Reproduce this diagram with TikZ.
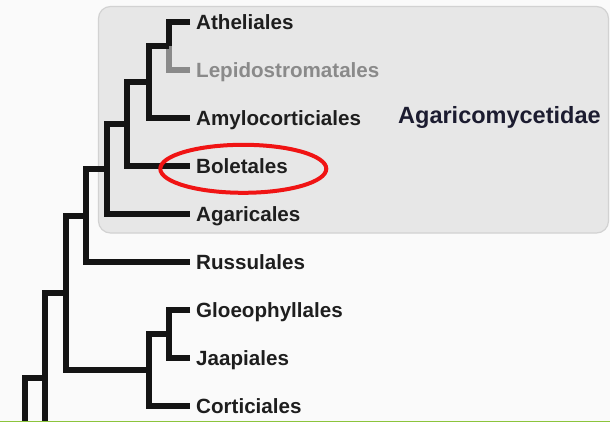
\documentclass[tikz,border=0pt]{standalone}
\usepackage{fontspec}
\setmainfont{Liberation Sans}
\usepackage{tikz}
\usetikzlibrary{shapes.geometric}

\definecolor{paper}{HTML}{FAFAFA}
\definecolor{boxfill}{HTML}{E7E7E7}
\definecolor{boxline}{HTML}{D2D2D2}
\definecolor{labelink}{HTML}{1E1E1E}
\definecolor{branchink}{HTML}{141414}
\definecolor{fadedink}{HTML}{8A8A8A}
\definecolor{ringred}{HTML}{F01414}
\definecolor{cladeink}{HTML}{1C1C30}
\definecolor{rimgreen}{HTML}{8CC43C}

\begin{document}
\begin{tikzpicture}[x=1pt, y=-1pt,
    leaf/.style={anchor=west, inner xsep=6pt, inner ysep=0pt, text height=15pt, text depth=0pt,
                 font=\fontsize{20.6}{24}\selectfont\bfseries, text=labelink},
    branch/.style={line width=6pt, draw=branchink},
    faded/.style={line width=6pt, draw=fadedink},
    ring/.style={draw=ringred, line width=4pt, ellipse, minimum width=166pt, minimum height=48pt, inner sep=0pt},
    clade/.style={font=\fontsize{23.5}{28}\selectfont\bfseries, text=cladeink, inner sep=0pt},
]
  \useasboundingbox (0,0) rectangle (610,422);
  \clip (0,0) rectangle (610,422);
  \fill[paper] (0,0) rectangle (610,422);

  % subclass box
  \draw[fill=boxfill, draw=boxline, line width=1.2pt, rounded corners=12pt] (98.5,6.5) rectangle (608.5,233);
  \node[clade, anchor=base west] (subclass) at (398,123.5) {Agaricomycetidae};

  % leaves
  \node[leaf] (athel) at (190,22) {Atheliales};
  \node[leaf, text=fadedink] (lepido) at (190,70) {Lepidostromatales};
  \node[leaf] (amylo) at (190,118) {Amylocorticiales};
  \node[leaf] (boleta) at (190,166) {Boletales};
  \node[leaf] (agari) at (190,214) {Agaricales};
  \node[leaf] (russu) at (190,262) {Russulales};
  \node[leaf] (gloeo) at (190,310) {Gloeophyllales};
  \node[leaf] (jaapi) at (190,358) {Jaapiales};
  \node[leaf] (corti) at (190,406) {Corticiales};

  % internal nodes
  \coordinate (n1) at (169,46);
  \coordinate (n2) at (149,82);
  \coordinate (n3) at (127,124);
  \coordinate (n4) at (107,169);
  \coordinate (n5) at (86,215.5);
  \coordinate (g1) at (169,334);
  \coordinate (g2) at (149,370);
  \coordinate (n6) at (66,292.75);
  \coordinate (n7) at (45,378);
  \coordinate (low7) at (45,440);
  \coordinate (n8) at (25,440);

  % branches
  \draw[faded] (n1) |- (lepido.west);
  \draw[branch] (athel.west) -| (n1);
  \draw[branch] (n1) -| (n2) |- (amylo.west);
  \draw[branch] (n2) -| (n3) |- (boleta.west);
  \draw[branch] (n3) -| (n4) |- (agari.west);
  \draw[branch] (n4) -| (n5) |- (russu.west);
  \draw[branch] (gloeo.west) -| (g1) |- (jaapi.west);
  \draw[branch] (g1) -| (g2) |- (corti.west);
  \draw[branch] (n5) -| (n6) |- (g2);
  \draw[branch] (n6) -| (n7) -- (low7);
  \draw[branch] (n7) -| (n8);

  % highlight
  \node[ring] (mark) at (243.3,168.8) {};

  \draw[rimgreen, line width=1.5pt] (0,421.25) -- (610,421.25);
\end{tikzpicture}
\end{document}
